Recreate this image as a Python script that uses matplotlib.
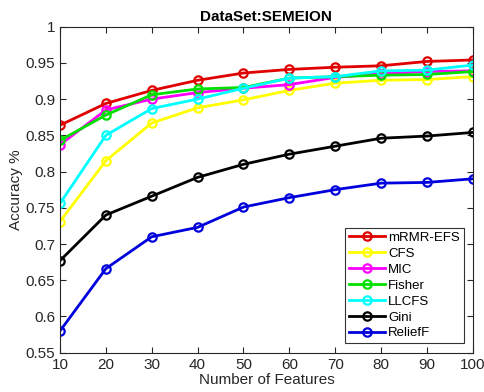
import matplotlib
matplotlib.use("Agg")
import matplotlib.pyplot as plt

plt.rcParams['font.family'] = ['Liberation Sans', 'DejaVu Sans']

features = [10, 20, 30, 40, 50, 60, 70, 80, 90, 100]
mrmr_efs = [0.864, 0.894, 0.912, 0.926, 0.936, 0.941, 0.944, 0.946, 0.952, 0.954]
cfs = [0.731, 0.815, 0.867, 0.888, 0.899, 0.912, 0.922, 0.926, 0.927, 0.931]
mic = [0.837, 0.885, 0.900, 0.909, 0.915, 0.920, 0.930, 0.935, 0.938, 0.939]
fisher = [0.843, 0.878, 0.906, 0.914, 0.916, 0.929, 0.931, 0.933, 0.934, 0.938]
llcfs = [0.756, 0.850, 0.887, 0.900, 0.915, 0.929, 0.931, 0.939, 0.940, 0.947]
gini = [0.677, 0.740, 0.766, 0.792, 0.810, 0.824, 0.835, 0.846, 0.849, 0.854]
relieff = [0.580, 0.666, 0.710, 0.723, 0.751, 0.764, 0.775, 0.784, 0.785, 0.790]

series = [
    ("mRMR-EFS", mrmr_efs, "#e00000"),
    ("CFS", cfs, "#ffff00"),
    ("MIC", mic, "#ff00ff"),
    ("Fisher", fisher, "#00e000"),
    ("LLCFS", llcfs, "#00ffff"),
    ("Gini", gini, "#000000"),
    ("ReliefF", relieff, "#0000dd"),
]
yticks = [0.55, 0.6, 0.65, 0.7, 0.75, 0.8, 0.85, 0.9, 0.95, 1]
yticklabels = ["0.55", "0.6", "0.65", "0.7", "0.75", "0.8", "0.85", "0.9", "0.95", "1"]

fig = plt.figure(figsize=(4.85, 3.92), dpi=100)
ax = fig.add_axes([0.1237, 0.1003, 0.975 - 0.1237, 0.932 - 0.1003])
for name, vals, c in series:
    ax.plot(features, vals, color=c, lw=2, marker='o', markersize=6,
            markerfacecolor='none', markeredgewidth=1.6, label=name)

ax.set_xlim(10, 100)
ax.set_ylim(0.55, 1)
ax.set_xticks(features)
ax.set_yticks(yticks)
ax.set_yticklabels(yticklabels)
txtc = '#262626'
ax.tick_params(direction='in', top=True, right=True, labelsize=11, colors=txtc, length=4, width=0.8)
for s in ax.spines.values():
    s.set_color(txtc)
    s.set_linewidth(0.8)
ax.set_title("DataSet:SEMEION", fontsize=11, fontweight='bold', pad=4)
ax.set_xlabel("Number of Features", fontsize=11, color=txtc, labelpad=1)
ax.set_ylabel("Accuracy %", fontsize=11, color=txtc, labelpad=2)
leg = ax.legend(loc='lower right', fontsize=9.5, frameon=True, fancybox=False,
                edgecolor='black', handlelength=2.7, borderpad=0.3, labelspacing=0.28,
                handletextpad=0.25, borderaxespad=0.7)
leg.get_frame().set_linewidth(0.8)
fig.savefig("out.png", dpi=100)
